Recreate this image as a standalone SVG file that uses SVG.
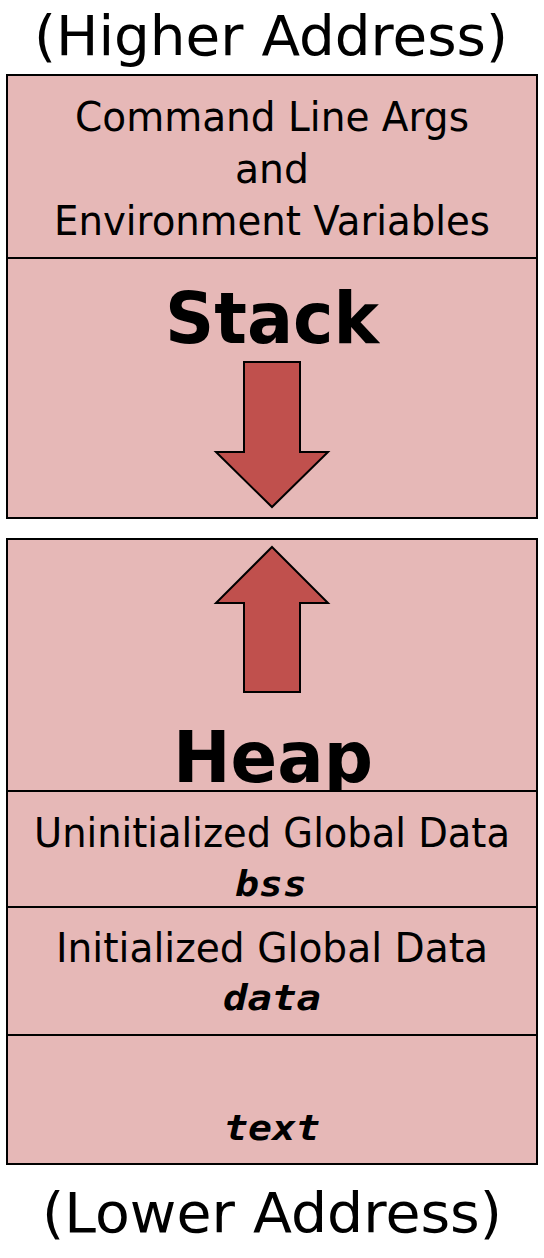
<svg xmlns="http://www.w3.org/2000/svg" width="544" height="1258" viewBox="0 0 544 1258">
<style>
.box{fill:#E6B8B7;stroke:#000;stroke-width:2}
.arr{fill:#C0504D;stroke:#000;stroke-width:2;stroke-linejoin:miter}
.t{font-family:"DejaVu Sans","Liberation Sans",sans-serif;fill:#000;text-anchor:middle}
.big{font-family:"DejaVu Sans","Liberation Sans",sans-serif;font-weight:bold;fill:#000;text-anchor:middle}
.mono{font-family:"DejaVu Sans Mono","Liberation Mono",monospace;font-weight:bold;font-style:italic;fill:#000;text-anchor:middle}
</style>
<rect width="544" height="1258" fill="#fff"/>
<g id="label-high">
<text class="t" x="271" y="55" font-size="55" textLength="474" lengthAdjust="spacingAndGlyphs">(Higher Address)</text>
</g>
<g id="node-args">
<rect class="box" x="7" y="75" width="530" height="183"/>
<text class="t" x="272" y="131" font-size="41" textLength="394" lengthAdjust="spacingAndGlyphs">Command Line Args</text>
<text class="t" x="272" y="183" font-size="41" textLength="74" lengthAdjust="spacingAndGlyphs">and</text>
<text class="t" x="272" y="235" font-size="41" textLength="436" lengthAdjust="spacingAndGlyphs">Environment Variables</text>
</g>
<g id="node-stack">
<rect class="box" x="7" y="258" width="530" height="260"/>
<text class="big" x="272" y="343" font-size="72" textLength="214" lengthAdjust="spacingAndGlyphs">Stack</text>
</g>
<g id="node-heap">
<rect class="box" x="7" y="539" width="530" height="252"/>
<text class="big" x="273" y="782" font-size="72" textLength="200" lengthAdjust="spacingAndGlyphs">Heap</text>
</g>
<g id="node-bss">
<rect class="box" x="7" y="791" width="530" height="116"/>
<text class="t" x="272" y="847" font-size="41" textLength="476" lengthAdjust="spacingAndGlyphs">Uninitialized Global Data</text>
<text class="mono" x="271" y="896" font-size="36" textLength="72" lengthAdjust="spacingAndGlyphs">bss</text>
</g>
<g id="node-data">
<rect class="box" x="7" y="907" width="530" height="128"/>
<text class="t" x="272" y="962" font-size="41" textLength="432" lengthAdjust="spacingAndGlyphs">Initialized Global Data</text>
<text class="mono" x="272" y="1010" font-size="36" textLength="98" lengthAdjust="spacingAndGlyphs">data</text>
</g>
<g id="node-text">
<rect class="box" x="7" y="1035" width="530" height="129"/>
<text class="mono" x="272" y="1140" font-size="36" textLength="96" lengthAdjust="spacingAndGlyphs">text</text>
</g>
<g id="label-low">
<text class="t" x="272" y="1232" font-size="55" textLength="460" lengthAdjust="spacingAndGlyphs">(Lower Address)</text>
</g>
<g id="connectors">
<polygon class="arr" points="244,362 300,362 300,452 328,452 272,507 216,452 244,452"/>
<polygon class="arr" points="272,547 328,603 300,603 300,692 244,692 244,603 216,603"/>
</g>
</svg>
